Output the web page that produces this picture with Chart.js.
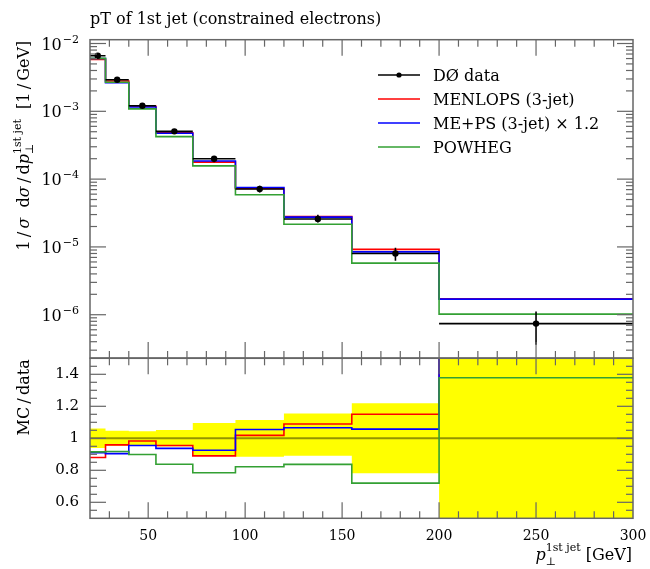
<!DOCTYPE html>
<html>
<head>
<meta charset="utf-8">
<script src="https://cdn.jsdelivr.net/npm/chart.js@4.4.0/dist/chart.umd.min.js"></script>
<style>
  body { margin: 0; background: #fff; }
  #wrap { position: relative; width: 650px; height: 569px; }
  canvas { position: absolute; left: 0; }
</style>
</head>
<body>
<div id="wrap">
  <canvas id="main" width="650" height="362" style="top:0"></canvas>
  <canvas id="ratio" width="650" height="229" style="top:340px"></canvas>
</div>
<script>
// leading jet pT, bins in GeV
const binEdges = [20, 28, 40, 54, 73, 95, 120, 155, 200, 300];
const d0Data = [6.6e-3, 2.92e-3, 1.21e-3, 5.06e-4, 2.0e-4, 7.15e-5, 2.58e-5, 8.0e-6, 7.4e-7];
const d0ErrUp = [4.0e-4, 1.37e-4, 5.4e-5, 2.6e-5, 1.9e-5, 8.2e-6, 4.0e-6, 1.75e-6, 3.8e-7];
const d0ErrDown = [4.0e-4, 1.37e-4, 5.4e-5, 2.6e-5, 2.2e-5, 8.2e-6, 2.8e-6, 1.75e-6, 3.8e-7];
const menlops = [5.81e-3, 2.80e-3, 1.19e-3, 4.83e-4, 1.78e-4, 7.28e-5, 2.81e-5, 9.2e-6, 1.72e-6];
const mepsScaled = [6.01e-3, 2.64e-3, 1.156e-3, 4.74e-4, 1.85e-4, 7.54e-5, 2.75e-5, 8.46e-6, 1.70e-6];
const powheg = [6.04e-3, 2.68e-3, 1.088e-3, 4.24e-4, 1.57e-4, 5.88e-5, 2.16e-5, 5.76e-6, 1.02e-6];

const seriesNames = ['DØ data', 'MENLOPS (3-jet)', 'ME+PS (3-jet) × 1.2', 'POWHEG'];
const seriesColors = ['#000000', '#ff0000', '#0000ff', '#33a033'];

const xTicks = [50, 100, 150, 200, 250, 300];
const logDecades = [-6, -5, -4, -3, -2];
const ratioTicks = [0.6, 0.8, 1, 1.2, 1.4];

const FACE = '"DejaVu Serif", serif';
const axisColor = '#666';
const THIN = '\u2009';
function font(size, italic) { return (italic ? 'italic ' : '') + size + 'px ' + FACE; }

// histogram as stepped line: value held from each lower edge to the next
function steps(vals) {
  const pts = vals.map((v, i) => ({ x: binEdges[i], y: v }));
  pts.push({ x: binEdges[binEdges.length - 1], y: vals[vals.length - 1] });
  return pts;
}
const mids = binEdges.slice(0, -1).map((e, i) => (e + binEdges[i + 1]) / 2);

function xBars() {
  const pts = [];
  d0Data.forEach((v, i) => {
    pts.push({ x: binEdges[i], y: v }, { x: binEdges[i + 1], y: v }, { x: binEdges[i + 1], y: null });
  });
  return pts;
}
function yBars() {
  const pts = [];
  d0Data.forEach((v, i) => {
    pts.push({ x: mids[i], y: v - d0ErrDown[i] }, { x: mids[i], y: v + d0ErrUp[i] }, { x: mids[i], y: null });
  });
  return pts;
}

const ratioOf = arr => arr.map((v, i) => v / d0Data[i]);
const bandHi = d0Data.map((v, i) => 1 + d0ErrUp[i] / v);
const bandLo = d0Data.map((v, i) => 1 - d0ErrDown[i] / v);

function line(ctx, x1, y1, x2, y2) {
  ctx.beginPath(); ctx.moveTo(x1, y1); ctx.lineTo(x2, y2); ctx.stroke();
}

function richWidth(ctx, parts) {
  let w = 0;
  parts.forEach(p => {
    if (p.stack) {
      w += Math.max(...p.stack.map(s => { ctx.font = s.f; return ctx.measureText(s.t).width; }));
    } else { ctx.font = p.f; w += ctx.measureText(p.t).width; }
  });
  return w;
}
function drawRich(ctx, parts, x, y) {
  ctx.textAlign = 'left';
  ctx.textBaseline = 'alphabetic';
  parts.forEach(p => {
    if (p.stack) {
      let w = 0;
      p.stack.forEach(s => {
        ctx.font = s.f;
        ctx.fillText(s.t, x, y + s.dy);
        w = Math.max(w, ctx.measureText(s.t).width);
      });
      x += w;
    } else {
      ctx.font = p.f;
      ctx.fillText(p.t, x, y);
      x += ctx.measureText(p.t).width;
    }
  });
}

// frame with inward ticks on all four sides
const framePlugin = {
  id: 'frame',
  afterDatasetsDraw(chart, args, opts) {
    const { ctx, chartArea: a } = chart;
    const xs = chart.scales.x, ys = chart.scales.y;
    ctx.save();
    ctx.strokeStyle = axisColor;
    ctx.lineWidth = 1.2;
    for (let v = 30; v < 300; v += 10) {
      const px = xs.getPixelForValue(v);
      const len = v % 50 === 0 ? 16 : 7;
      line(ctx, px, a.top, px, a.top + len);
      line(ctx, px, a.bottom, px, a.bottom - len);
    }
    opts.yTicks(ys).forEach(t => {
      const py = ys.getPixelForValue(t.v);
      if (py < a.top + 0.5 || py > a.bottom - 0.5) return;
      const len = t.major ? 16 : 7;
      line(ctx, a.left, py, a.left + len, py);
      line(ctx, a.right, py, a.right - len, py);
    });
    ctx.lineWidth = 1.5;
    ctx.strokeRect(a.left, a.top, a.right - a.left, a.bottom - a.top);
    ctx.restore();
  }
};

const logTicks = () => {
  const out = [];
  for (let e = -7; e <= -2; e++) {
    for (let k = 1; k <= 9; k++) out.push({ v: k * Math.pow(10, e), major: k === 1 });
  }
  return out;
};
const linTicks = () => {
  const out = [];
  for (let i = 11; i < 30; i++) {
    const v = i * 0.05;
    out.push({ v: v, major: ratioTicks.some(t => Math.abs(t - v) < 1e-6) });
  }
  return out;
};

const mainText = {
  id: 'mainText',
  afterDraw(chart) {
    const { ctx, chartArea: a } = chart;
    const ys = chart.scales.y;
    ctx.save();
    ctx.fillStyle = '#000';

    ctx.font = font(16);
    ctx.textAlign = 'left';
    ctx.textBaseline = 'alphabetic';
    ctx.fillText('pT of 1st jet (constrained electrons)', 90, 24);

    // decade labels
    logDecades.forEach(e => {
      const py = ys.getPixelForValue(Math.pow(10, e));
      const sup = '\u2212' + Math.abs(e);
      ctx.font = font(11);
      const w2 = ctx.measureText(sup).width;
      ctx.textAlign = 'left';
      ctx.fillText(sup, 79 - w2, py - 1);
      ctx.font = font(16);
      ctx.textAlign = 'right';
      ctx.fillText('10', 79 - w2 - 1, py + 6);
    });

    // rotated y title, top-aligned
    const yParts = [
      { t: '1' + THIN + '/' + THIN, f: font(16) }, { t: 'σ', f: font(16, true) }, { t: '  d', f: font(16) },
      { t: 'σ', f: font(16, true) }, { t: THIN + '/' + THIN + 'd', f: font(16) }, { t: 'p', f: font(16, true) },
      { stack: [{ t: '1st jet', f: font(11), dy: -8 }, { t: '⊥', f: font(11), dy: 4 }] },
      { t: '  [1' + THIN + '/' + THIN + 'GeV]', f: font(16) }
    ];
    const yw = richWidth(ctx, yParts);
    ctx.save();
    ctx.translate(29, a.top + 1);
    ctx.rotate(-Math.PI / 2);
    drawRich(ctx, yParts, -yw, 0);
    ctx.restore();

    // legend
    const rows = [75, 99, 123, 147];
    seriesNames.forEach((name, i) => {
      const y = rows[i];
      ctx.strokeStyle = seriesColors[i];
      ctx.lineWidth = 1.6;
      line(ctx, 378, y, 420, y);
      if (i === 0) {
        ctx.beginPath(); ctx.arc(399, y, 2.6, 0, Math.PI * 2); ctx.fill();
      }
      ctx.font = font(16);
      ctx.textAlign = 'left';
      ctx.fillText(name, 433, y + 6);
    });
    ctx.restore();
  }
};

const ratioText = {
  id: 'ratioText',
  afterDraw(chart) {
    const { ctx, chartArea: a } = chart;
    const xs = chart.scales.x, ys = chart.scales.y;
    ctx.save();
    ctx.fillStyle = '#000';

    ctx.font = font(15);
    ctx.textAlign = 'right';
    ctx.textBaseline = 'middle';
    ratioTicks.forEach(t => {
      ctx.fillText(String(t), 79, ys.getPixelForValue(t));
    });

    ctx.font = font(14);
    ctx.textAlign = 'center';
    xTicks.forEach(t => {
      ctx.fillText(String(t), xs.getPixelForValue(t), a.bottom + 18);
    });

    ctx.textBaseline = 'alphabetic';
    ctx.font = font(16);
    const mcLabel = 'MC' + THIN + '/' + THIN + 'data';
    const mw = ctx.measureText(mcLabel).width;
    ctx.save();
    ctx.translate(29, a.top + 1);
    ctx.rotate(-Math.PI / 2);
    ctx.textAlign = 'left';
    ctx.fillText(mcLabel, -mw, 0);
    ctx.restore();

    const xParts = [
      { t: 'p', f: font(16, true) },
      { stack: [{ t: '1st jet', f: font(11), dy: -9 }, { t: '⊥', f: font(11), dy: 5 }] },
      { t: ' [GeV]', f: font(16) }
    ];
    const xw = richWidth(ctx, xParts);
    drawRich(ctx, xParts, 632 - xw, a.bottom + 42);
    ctx.restore();
  }
};

const stepLine = (label, data, color, order) => ({
  label: label, data: data, borderColor: color, borderWidth: 1.6,
  stepped: true, pointRadius: 0, fill: false, order: order
});

new Chart(document.getElementById('main'), {
  type: 'line',
  data: {
    datasets: [
      stepLine(seriesNames[1], steps(menlops), seriesColors[1], 5),
      stepLine(seriesNames[2], steps(mepsScaled), seriesColors[2], 4),
      stepLine(seriesNames[3], steps(powheg), seriesColors[3], 3),
      { label: 'xerr', data: xBars(), borderColor: '#000', borderWidth: 1.6, pointRadius: 0, spanGaps: false, order: 2 },
      { label: 'yerr', data: yBars(), borderColor: '#000', borderWidth: 1.6, pointRadius: 0, spanGaps: false, order: 1 },
      { label: seriesNames[0], data: d0Data.map((v, i) => ({ x: mids[i], y: v })), showLine: false,
        pointRadius: 3.2, pointBackgroundColor: '#000', pointBorderWidth: 0, order: 0 }
    ]
  },
  options: {
    responsive: false,
    animation: false,
    layout: { padding: { left: 90, right: 17, top: 39.7, bottom: 3.7 } },
    scales: {
      x: { type: 'linear', min: 20, max: 300, display: false },
      y: { type: 'logarithmic', min: 2.3e-7, max: 1.138e-2, bounds: 'data', display: false }
    },
    plugins: {
      legend: { display: false },
      tooltip: { enabled: false },
      frame: { yTicks: logTicks }
    }
  },
  plugins: [framePlugin, mainText]
});

new Chart(document.getElementById('ratio'), {
  type: 'line',
  data: {
    datasets: [
      { label: 'band', data: steps(bandHi), stepped: true, borderColor: 'rgba(0,0,0,0)',
        backgroundColor: '#ffff00', fill: '+1', pointRadius: 0, order: 10 },
      { label: 'bandLo', data: steps(bandLo), stepped: true, borderColor: 'rgba(0,0,0,0)',
        fill: false, pointRadius: 0, order: 11 },
      { label: 'ref', data: [{ x: 20, y: 1 }, { x: 300, y: 1 }], borderColor: 'rgba(0,0,0,0.42)',
        borderWidth: 2, pointRadius: 0, order: 6 },
      stepLine(seriesNames[1], steps(ratioOf(menlops)), seriesColors[1], 5),
      stepLine(seriesNames[2], steps(ratioOf(mepsScaled)), seriesColors[2], 4),
      stepLine(seriesNames[3], steps(ratioOf(powheg)), seriesColors[3], 3)
    ]
  },
  options: {
    responsive: false,
    animation: false,
    layout: { padding: { left: 90, right: 17, top: 18.3, bottom: 50.7 } },
    scales: {
      x: { type: 'linear', min: 20, max: 300, display: false },
      y: { type: 'linear', min: 0.5, max: 1.5, display: false }
    },
    plugins: {
      legend: { display: false },
      tooltip: { enabled: false },
      filler: { propagate: false },
      frame: { yTicks: linTicks }
    }
  },
  plugins: [framePlugin, ratioText]
});
</script>
</body>
</html>
